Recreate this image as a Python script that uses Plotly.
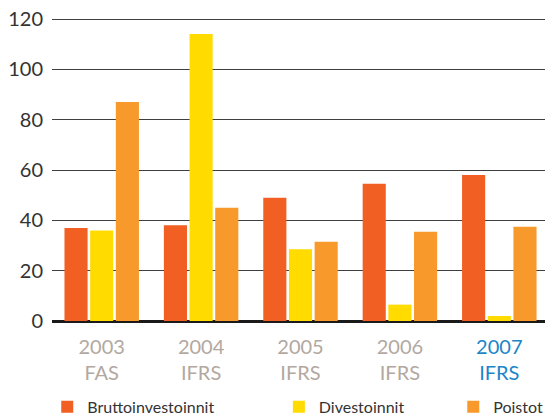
import plotly.graph_objects as go

years = ["2003", "2004", "2005", "2006", "2007"]
standards = ["FAS", "IFRS", "IFRS", "IFRS", "IFRS"]
brutto = [37, 38, 49, 54.5, 58]
divest = [36, 114, 28.5, 6.5, 2]
poistot = [87, 45, 31.5, 35.5, 37.5]
series_names = ["Bruttoinvestoinnit", "Divestoinnit", "Poistot"]
colors = ["#F15F22", "#FFDB00", "#F7992B"]
y_ticks = [0, 20, 40, 60, 80, 100, 120]

gray = "#B2A89F"
blue = "#1A85C8"
ticktext = []
for i, (y, s) in enumerate(zip(years, standards)):
    c = blue if i == len(years) - 1 else gray
    ticktext.append(f"<span style='color:{c}'>{y}</span><br><span style='color:{c}'>{s}</span>")

fig = go.Figure()
legends = ["legend", "legend2", "legend3"]
for name, vals, col, lg in zip(series_names, [brutto, divest, poistot], colors, legends):
    fig.add_trace(go.Bar(x=years, y=vals, name=name, marker=dict(color=col, line=dict(width=0)),
                         legend=lg, showlegend=True))

font = "Lato, Open Sans, sans-serif"
leg_common = dict(orientation="h", yanchor="middle", y=0.027, xanchor="left",
                  xref="container", yref="container",
                  font=dict(family=font, size=16, color="#333333"),
                  bgcolor="rgba(0,0,0,0)", borderwidth=0)
fig.update_layout(
    width=545, height=410,
    margin=dict(l=44, r=4, t=10, b=97, autoexpand=False),
    plot_bgcolor="white", paper_bgcolor="white",
    barmode="group", bargap=0.225, bargroupgap=0.1,
    font=dict(family=font, color="#333333"),
    showlegend=True,
    legend=dict(x=0.072, **leg_common),
    legend2=dict(x=0.497, **leg_common),
    legend3=dict(x=0.817, **leg_common),
    xaxis=dict(tickvals=years, ticktext=ticktext, showgrid=False, showline=False,
               ticks="outside", ticklen=8, tickcolor="rgba(0,0,0,0)",
               tickfont=dict(family=font, size=20, color=gray)),
    yaxis=dict(range=[0, 120.4], tickvals=y_ticks, showgrid=True, gridcolor="#3F3F3F",
               gridwidth=1.4, zeroline=True, zerolinecolor="#1A1A1A", zerolinewidth=3,
               ticks="outside", ticklen=4, tickcolor="rgba(0,0,0,0)",
               ticklabeloverflow="allow",
               tickfont=dict(family=font, size=20, color="#333333"), showline=False),
)

fig.write_html("out.html")
